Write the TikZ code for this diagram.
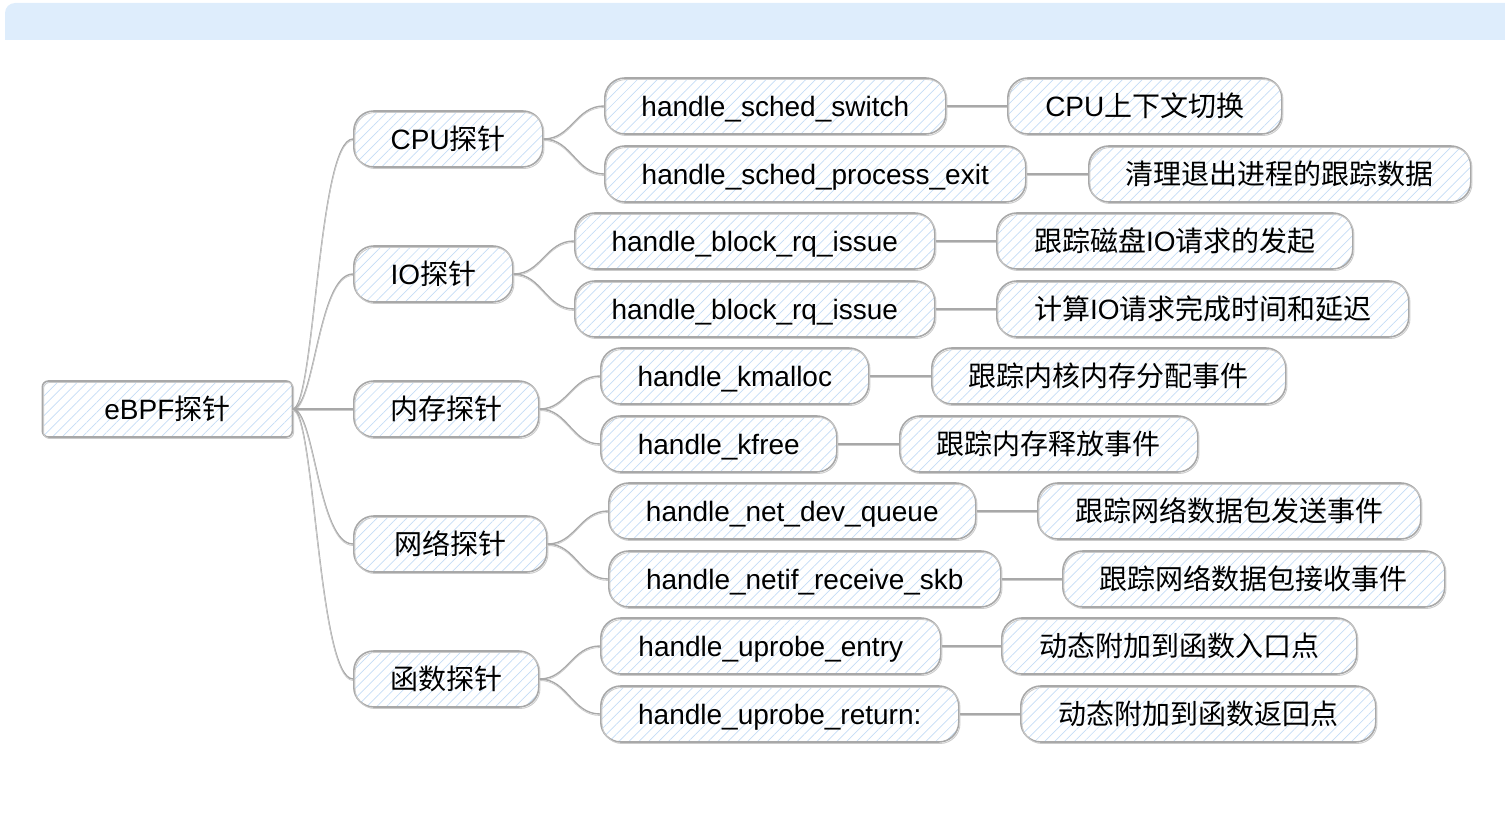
\documentclass[tikz,border=0pt]{standalone}
\usepackage{fontspec}
\setmainfont{Liberation Sans}
\newfontfamily\cjk{Noto Sans CJK SC}
\usetikzlibrary{patterns.meta}
\newcommand{\zh}[1]{{\cjk #1}}
\definecolor{hatch}{HTML}{C4DCF5}
\definecolor{edge}{HTML}{A8A8A8}
\definecolor{banner}{HTML}{DEEDFC}
\begin{document}
\begin{tikzpicture}[x=1pt,y=-1pt,
    font=\fontsize{28}{30}\selectfont,
    topic/.style={draw=edge, line width=1.6pt, rounded corners=20pt, anchor=west,
      minimum height=56pt, inner xsep=2pt, inner ysep=0pt, text height=24pt, text depth=4pt,
      pattern={Lines[angle=45,distance=7pt,line width=0.7pt]}, pattern color=hatch,
      postaction={draw=edge!60, line width=0.9pt, transform canvas={shift={(1.2pt,-1.5pt)}}}},
    rootbox/.style={topic, rounded corners=6pt},
    link/.style={draw=edge, line width=1.4pt,
      postaction={draw=edge!60, line width=0.8pt, transform canvas={yshift=-1.5pt}}}]
    \useasboundingbox (0,0) rectangle (1505,816);
    % banner
    \fill [banner] (5,40) [rounded corners=10pt] -- (5,3) [sharp corners] -- (1505,3) -- (1505,40) -- cycle;
    % root and probes
    \node [rootbox, minimum width=250pt] (root) at (42,409) {eBPF\zh{探针}};
    \node [topic, minimum width=189pt] (cpu) at (353,139) {CPU\zh{探针}};
    \node [topic, minimum width=159pt] (io) at (353,274) {IO\zh{探针}};
    \node [topic, minimum width=185pt] (mem) at (353,409) {\zh{内存探针}};
    \node [topic, minimum width=193pt] (net) at (353,544) {\zh{网络探针}};
    \node [topic, minimum width=185pt] (func) at (353,679) {\zh{函数探针}};
    % handlers
    \node [topic, minimum width=341pt] (sw) at (604,106) {handle\_sched\_switch};
    \node [topic, minimum width=421pt] (pexit) at (604,174) {handle\_sched\_process\_exit};
    \node [topic, minimum width=360pt] (rqa) at (574,241) {handle\_block\_rq\_issue};
    \node [topic, minimum width=360pt] (rqb) at (574,309) {handle\_block\_rq\_issue};
    \node [topic, minimum width=268pt] (kmal) at (600,376) {handle\_kmalloc};
    \node [topic, minimum width=236pt] (kfree) at (600,444) {handle\_kfree};
    \node [topic, minimum width=367pt] (devq) at (608,511) {handle\_net\_dev\_queue};
    \node [topic, minimum width=392pt] (rxskb) at (608,579) {handle\_netif\_receive\_skb};
    \node [topic, minimum width=340pt] (upe) at (600,646) {handle\_uprobe\_entry};
    \node [topic, minimum width=358pt] (upr) at (600,714) {handle\_uprobe\_return:};
    % descriptions
    \node [topic, minimum width=274pt] (ctx) at (1007,106) {CPU\zh{上下文切换}};
    \node [topic, minimum width=382pt] (clean) at (1088,174) {\zh{清理退出进程的跟踪数据}};
    \node [topic, minimum width=356pt] (dsk) at (996,241) {\zh{跟踪磁盘}IO\zh{请求的发起}};
    \node [topic, minimum width=412pt] (lat) at (996,309) {\zh{计算}IO\zh{请求完成时间和延迟}};
    \node [topic, minimum width=354pt] (kal) at (931,376) {\zh{跟踪内核内存分配事件}};
    \node [topic, minimum width=298pt] (kfr) at (899,444) {\zh{跟踪内存释放事件}};
    \node [topic, minimum width=383pt] (tx) at (1037,511) {\zh{跟踪网络数据包发送事件}};
    \node [topic, minimum width=382pt] (rx) at (1062,579) {\zh{跟踪网络数据包接收事件}};
    \node [topic, minimum width=355pt] (ent) at (1001,646) {\zh{动态附加到函数入口点}};
    \node [topic, minimum width=355pt] (ret) at (1020,714) {\zh{动态附加到函数返回点}};
    % links
    \foreach \p in {cpu,io,mem,net,func}
      \draw [link] (root.east) .. controls +(22,0) and +(-35,0) .. (\p.west);
    \foreach \a/\b in {cpu/sw,cpu/pexit,io/rqa,io/rqb,mem/kmal,mem/kfree,net/devq,net/rxskb,func/upe,func/upr}
      \draw [link] (\a.east) .. controls +(28,0) and +(-28,0) .. (\b.west);
    \foreach \a/\b in {sw/ctx,pexit/clean,rqa/dsk,rqb/lat,kmal/kal,kfree/kfr,devq/tx,rxskb/rx,upe/ent,upr/ret}
      \draw [link] (\a.east) -- (\b.west);
\end{tikzpicture}
\end{document}
